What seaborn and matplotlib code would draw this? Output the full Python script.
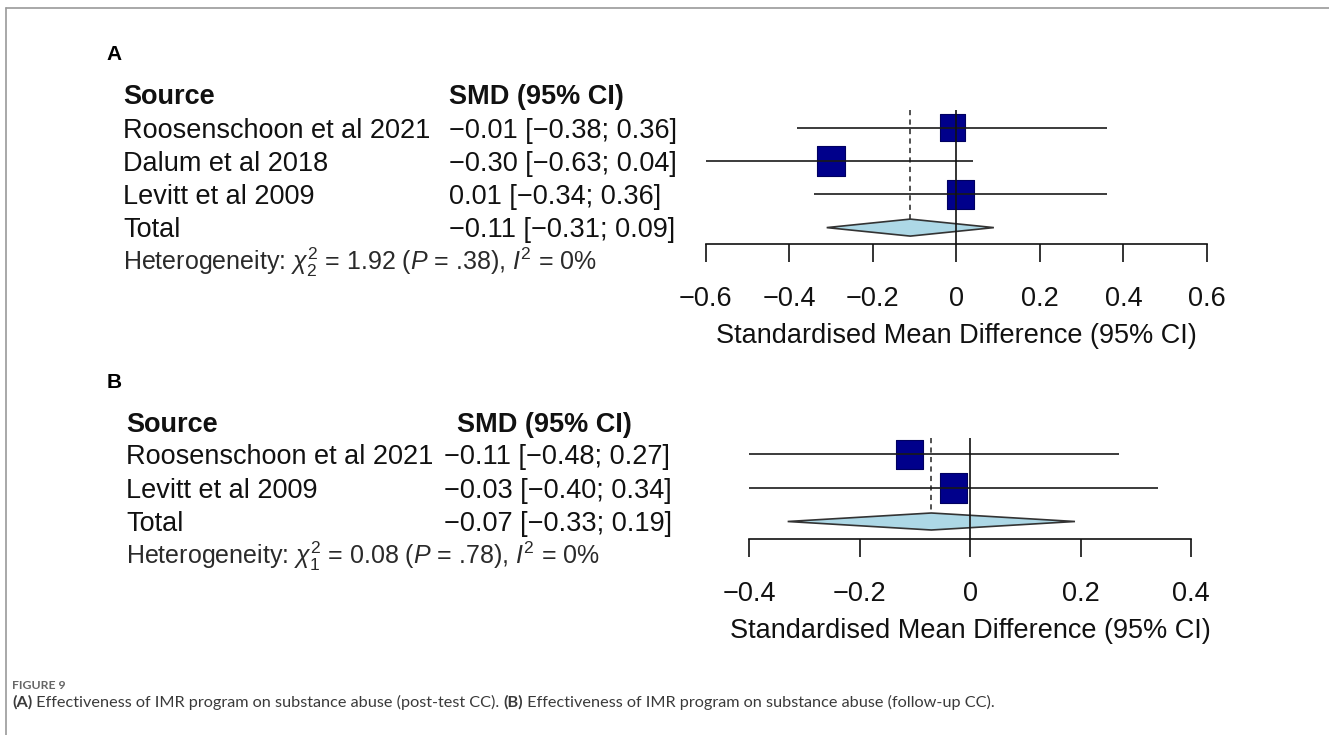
import numpy as np
import pandas as pd
import matplotlib
matplotlib.use("Agg")
import matplotlib.pyplot as plt
from matplotlib.lines import Line2D
import seaborn as sns

# ---------------- data ----------------
a_studies = ["Roosenschoon et al 2021", "Dalum et al 2018", "Levitt et al 2009"]
a_smd = [-0.01, -0.30, 0.01]
a_lo = [-0.38, -0.63, -0.34]
a_hi = [0.36, 0.04, 0.36]
a_weight = [29.9, 36.6, 33.5]
a_total = [-0.11, -0.31, 0.09]
a_het = {"df": "2", "chi2": "1.92", "p": ".38", "i2": "0"}
a_ticks = [-0.6, -0.4, -0.2, 0, 0.2, 0.4, 0.6]

b_studies = ["Roosenschoon et al 2021", "Levitt et al 2009"]
b_smd = [-0.11, -0.03]
b_lo = [-0.48, -0.40]
b_hi = [0.27, 0.34]
b_weight = [49.4, 50.6]
b_total = [-0.07, -0.33, 0.19]
b_het = {"df": "1", "chi2": "0.08", "p": ".78", "i2": "0"}
b_ticks = [-0.4, -0.2, 0, 0.2, 0.4]

caption_head = "FIGURE 9"
caption_parts = [("(A)", "bold"), (" Effectiveness of IMR program on substance abuse (post-test CC). ", "normal"),
                 ("(B)", "bold"), (" Effectiveness of IMR program on substance abuse (follow-up CC).", "normal")]

# ---------------- style ----------------
sns.set_style("white")
plt.rcParams["font.family"] = ["Liberation Sans", "DejaVu Sans"]
plt.rcParams["mathtext.fontset"] = "custom"
plt.rcParams["mathtext.rm"] = "Liberation Sans"
plt.rcParams["mathtext.it"] = "Liberation Sans:italic"
plt.rcParams["mathtext.bf"] = "Liberation Sans:bold"

W, H = 1329, 735
fig = plt.figure(figsize=(W / 100, H / 100), dpi=100)
fig.patch.set_facecolor("white")

def fx(px):
    return px / W

def fy(py):
    return 1 - py / H

def fmt(v):
    return f"{v:.2f}".replace("-", "\u2212")

def tick_fmt(v):
    if v == 0:
        return "0"
    return f"{v:g}".replace("-", "\u2212")

TXT = "#111111"
MAIN_FS = 19.5
LW = 1.2
RECT = [(-1, -1.08), (1, -1.08), (1, 1.08), (-1, 1.08), (-1, -1.08)]

def forest(studies, smd, lo, hi, weight, total, het, ticks,
           ax_left, ax_right, ax_top, ax_bottom, row0, spacing,
           letter, letter_xy, col1_x, col2_x, head2_x, head_base, max_side):
    n = len(studies)
    ax = fig.add_axes([fx(ax_left), fy(ax_bottom), fx(ax_right - ax_left), (ax_bottom - ax_top) / H])
    ax.set_xlim(ticks[0], ticks[-1])
    ytop = (ax_top - row0) / spacing
    ybot = (ax_bottom - row0) / spacing
    ax.set_ylim(ybot, ytop)
    ax.set_facecolor("none")

    rows = np.arange(n)
    # CI lines
    ax.hlines(rows, lo, hi, color="#1a1a1a", lw=LW, zorder=4)
    # squares sized by weight
    side_px = max_side * np.sqrt(np.array(weight) / max(weight))
    df = pd.DataFrame({"smd": smd, "row": rows})
    sns.scatterplot(data=df, x="smd", y="row", marker=RECT, s=(side_px * 0.72) ** 2,
                    color="#00008B", edgecolor="#000060", linewidth=0.8,
                    ax=ax, legend=False, zorder=3)
    # diamond
    est, dlo, dhi = total
    h = 8.5 / spacing
    ax.fill([dlo, est, dhi, est], [n, n - h, n, n + h], facecolor="#ADD8E6",
            edgecolor="#333333", lw=LW, zorder=3)
    # reference lines
    ax.axvline(0, color="#111111", lw=LW, zorder=5)
    ax.vlines(est, ytop, n - h, color="#222222", lw=1.1, linestyles=(0, (3.4, 2.8)), zorder=2)

    for s in ["left", "top", "right"]:
        ax.spines[s].set_visible(False)
    ax.spines["bottom"].set_color("#111111")
    ax.spines["bottom"].set_linewidth(LW)
    ax.set_yticks([])
    ax.set_ylabel("")
    ax.set_xticks(ticks)
    ax.set_xticklabels([tick_fmt(t) for t in ticks])
    ax.tick_params(axis="x", direction="out", length=13, width=LW, pad=17,
                   labelsize=MAIN_FS, colors=TXT, bottom=True)
    ax.set_xlabel("Standardised Mean Difference (95% CI)", fontsize=MAIN_FS, color=TXT, labelpad=8)

    # text columns
    fig.text(fx(letter_xy[0]), fy(letter_xy[1]), letter, fontsize=15, fontweight="bold",
             va="baseline", ha="left", color="black")
    fig.text(fx(col1_x), fy(head_base), "Source", fontsize=MAIN_FS, fontweight="bold",
             va="baseline", ha="left", color=TXT)
    fig.text(fx(head2_x), fy(head_base), "SMD (95% CI)", fontsize=MAIN_FS, fontweight="bold",
             va="baseline", ha="left", color=TXT)
    base_off = 9.8
    for i in range(n):
        yb = row0 + i * spacing + base_off
        fig.text(fx(col1_x), fy(yb), studies[i], fontsize=MAIN_FS, va="baseline", ha="left", color=TXT)
        fig.text(fx(col2_x), fy(yb), f"{fmt(smd[i])} [{fmt(lo[i])}; {fmt(hi[i])}]",
                 fontsize=MAIN_FS, va="baseline", ha="left", color=TXT)
    yb = row0 + n * spacing + base_off
    fig.text(fx(col1_x), fy(yb), "Total", fontsize=MAIN_FS, va="baseline", ha="left", color=TXT)
    fig.text(fx(col2_x), fy(yb), f"{fmt(est)} [{fmt(dlo)}; {fmt(dhi)}]",
             fontsize=MAIN_FS, va="baseline", ha="left", color=TXT)
    het_txt = ("Heterogeneity: $\\chi^2_{" + het["df"] + "}$ = " + het["chi2"] +
               " ($P$ = " + het["p"] + "), $I^2$ = " + het["i2"] + "%")
    fig.text(fx(col1_x), fy(yb + 32.5), het_txt, fontsize=18, va="baseline", ha="left", color="#2a2a2a")
    return ax

axA = forest(a_studies, a_smd, a_lo, a_hi, a_weight, a_total, a_het, a_ticks,
             705.5, 1207, 110, 244, 127.7, 33.3,
             "A", (106, 60), 123, 449, 449, 104, 30)
axB = forest(b_studies, b_smd, b_lo, b_hi, b_weight, b_total, b_het, b_ticks,
             749, 1191, 438, 539, 454.5, 33.5,
             "B", (107, 388), 126, 444, 457, 432, 30)

# frame lines
fig.add_artist(Line2D([fx(6), fx(6)], [0, fy(8)], color="#9a9a9a", lw=1.2))
fig.add_artist(Line2D([fx(6), 1], [fy(8), fy(8)], color="#9a9a9a", lw=1.2))

# caption
fig.text(fx(12), fy(689), caption_head, fontsize=8.8, fontweight="bold", family=["Lato", "DejaVu Sans"],
         color="#666666", va="baseline", ha="left")
renderer = fig.canvas.get_renderer()
cap_fs = 12.0
# fit caption width to reference (~983 px)
def cap_width(fs):
    tot = 0
    for s, wgt in caption_parts:
        t = fig.text(0, 0, s, fontsize=fs, fontweight=wgt, family=["Lato", "DejaVu Sans"])
        tot += t.get_window_extent(renderer).width
        t.remove()
    return tot
cap_fs = cap_fs * 983 / cap_width(cap_fs)
x = 12
for s, wgt in caption_parts:
    t = fig.text(fx(x), fy(707), s, fontsize=cap_fs, fontweight=wgt, family=["Lato", "DejaVu Sans"],
                 color="#3a3a3a", va="baseline", ha="left")
    x += t.get_window_extent(renderer).width

fig.savefig("out.png", dpi=100, facecolor="white")
